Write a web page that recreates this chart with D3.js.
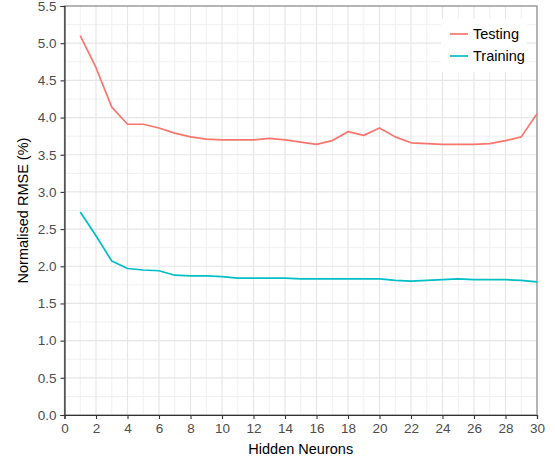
<!DOCTYPE html>
<html>
<head>
<meta charset="utf-8">
<script src="https://cdn.jsdelivr.net/npm/d3@7"></script>
<style>
  body { margin: 0; background: #fff; }
  svg { display: block; font-family: "Liberation Sans", Arial, sans-serif; }
  .tick text { fill: #4d4d4d; font-size: 13.5px; }
</style>
</head>
<body>
<svg id="chart"></svg>
<script>
// data
const neurons = d3.range(1, 31);
const testing = [5.10, 4.67, 4.14, 3.91, 3.91, 3.86, 3.79, 3.74, 3.71, 3.70,
                 3.70, 3.70, 3.72, 3.70, 3.67, 3.64, 3.69, 3.81, 3.76, 3.86,
                 3.74, 3.66, 3.65, 3.64, 3.64, 3.64, 3.65, 3.69, 3.74, 4.05];
const training = [2.73, 2.41, 2.07, 1.97, 1.95, 1.94, 1.88, 1.87, 1.87, 1.86,
                  1.84, 1.84, 1.84, 1.84, 1.83, 1.83, 1.83, 1.83, 1.83, 1.83,
                  1.81, 1.80, 1.81, 1.82, 1.83, 1.82, 1.82, 1.82, 1.81, 1.79];
const seriesNames = ['Testing', 'Training'];
const seriesColors = ['#F8766D', '#00BFC4'];
const xTicks = d3.range(0, 31, 2);
const yTicks = d3.range(0, 5.51, 0.5);

const config = {
    width: 555,
    height: 461,
    margin: { top: 6, right: 18, bottom: 46, left: 64.5 }
};

const innerW = config.width - config.margin.left - config.margin.right;
const innerH = config.height - config.margin.top - config.margin.bottom;

const svg = d3.select('#chart')
    .attr('width', config.width)
    .attr('height', config.height);

const chart = svg.append('g')
    .attr('transform', `translate(${config.margin.left},${config.margin.top})`);

const xScale = d3.scaleLinear().domain([0, 30]).range([0, innerW]);
const yScale = d3.scaleLinear().domain([0, 5.5]).range([innerH, 0]);

// grid: minor first, then major
chart.append('g').selectAll('line')
    .data(d3.range(1, 30, 2))
    .join('line')
    .attr('x1', d => xScale(d)).attr('x2', d => xScale(d))
    .attr('y1', 0).attr('y2', innerH)
    .attr('stroke', '#f0f0f0').attr('stroke-width', 1);

chart.append('g').selectAll('line')
    .data(d3.range(0.25, 5.5, 0.5))
    .join('line')
    .attr('x1', 0).attr('x2', innerW)
    .attr('y1', d => yScale(d)).attr('y2', d => yScale(d))
    .attr('stroke', '#f0f0f0').attr('stroke-width', 1);

chart.append('g').selectAll('line')
    .data(xTicks)
    .join('line')
    .attr('x1', d => xScale(d)).attr('x2', d => xScale(d))
    .attr('y1', 0).attr('y2', innerH)
    .attr('stroke', '#e6e6e6').attr('stroke-width', 1.2);

chart.append('g').selectAll('line')
    .data(yTicks)
    .join('line')
    .attr('x1', 0).attr('x2', innerW)
    .attr('y1', d => yScale(d)).attr('y2', d => yScale(d))
    .attr('stroke', '#e6e6e6').attr('stroke-width', 1.2);

// panel border (top/right grey)
chart.append('rect')
    .attr('x', 0).attr('y', 0)
    .attr('width', innerW).attr('height', innerH)
    .attr('fill', 'none')
    .attr('stroke', '#8c8c8c')
    .attr('stroke-width', 1.2);

// lines
const line = d3.line()
    .x((d, i) => xScale(neurons[i]))
    .y(d => yScale(d));

[testing, training].forEach((vals, i) => {
    chart.append('path')
        .datum(vals)
        .attr('fill', 'none')
        .attr('stroke', seriesColors[i])
        .attr('stroke-width', 1.7)
        .attr('stroke-linejoin', 'round')
        .attr('d', line);
});

// axes
const xAxis = d3.axisBottom(xScale).tickValues(xTicks).tickSize(4).tickPadding(3)
    .tickFormat(d3.format('d'));
const yAxis = d3.axisLeft(yScale).tickValues(yTicks).tickSize(4).tickPadding(4)
    .tickFormat(d3.format('.1f'));

const xAxisG = chart.append('g')
    .attr('transform', `translate(0,${innerH})`)
    .call(xAxis);
const yAxisG = chart.append('g').call(yAxis);

[xAxisG, yAxisG].forEach(g => {
    g.select('.domain').attr('stroke', '#333').attr('stroke-width', 1.2);
    g.selectAll('.tick line').attr('stroke', '#333').attr('stroke-width', 1.1);
});
xAxisG.selectAll('.tick text').attr('dy', '0.8em');

// axis titles
chart.append('text')
    .attr('x', innerW / 2)
    .attr('y', innerH + 39)
    .attr('text-anchor', 'middle')
    .attr('font-size', 14.5)
    .attr('fill', '#000')
    .text('Hidden Neurons');

chart.append('text')
    .attr('transform', 'rotate(-90)')
    .attr('x', -innerH / 2)
    .attr('y', -36.5)
    .attr('text-anchor', 'middle')
    .attr('font-size', 14.5)
    .attr('fill', '#000')
    .text('Normalised RMSE (%)');

// legend
const legend = svg.append('g').attr('transform', 'translate(441,19)');
legend.append('rect')
    .attr('width', 86).attr('height', 53)
    .attr('fill', '#fff');

seriesNames.forEach((name, i) => {
    const y = 15 + i * 22;
    legend.append('line')
        .attr('x1', 9).attr('x2', 27)
        .attr('y1', y).attr('y2', y)
        .attr('stroke', seriesColors[i])
        .attr('stroke-width', 1.7);
    legend.append('text')
        .attr('x', 32)
        .attr('y', y)
        .attr('dy', '0.36em')
        .attr('font-size', 14.5)
        .attr('fill', '#000')
        .text(name);
});
</script>
</body>
</html>
